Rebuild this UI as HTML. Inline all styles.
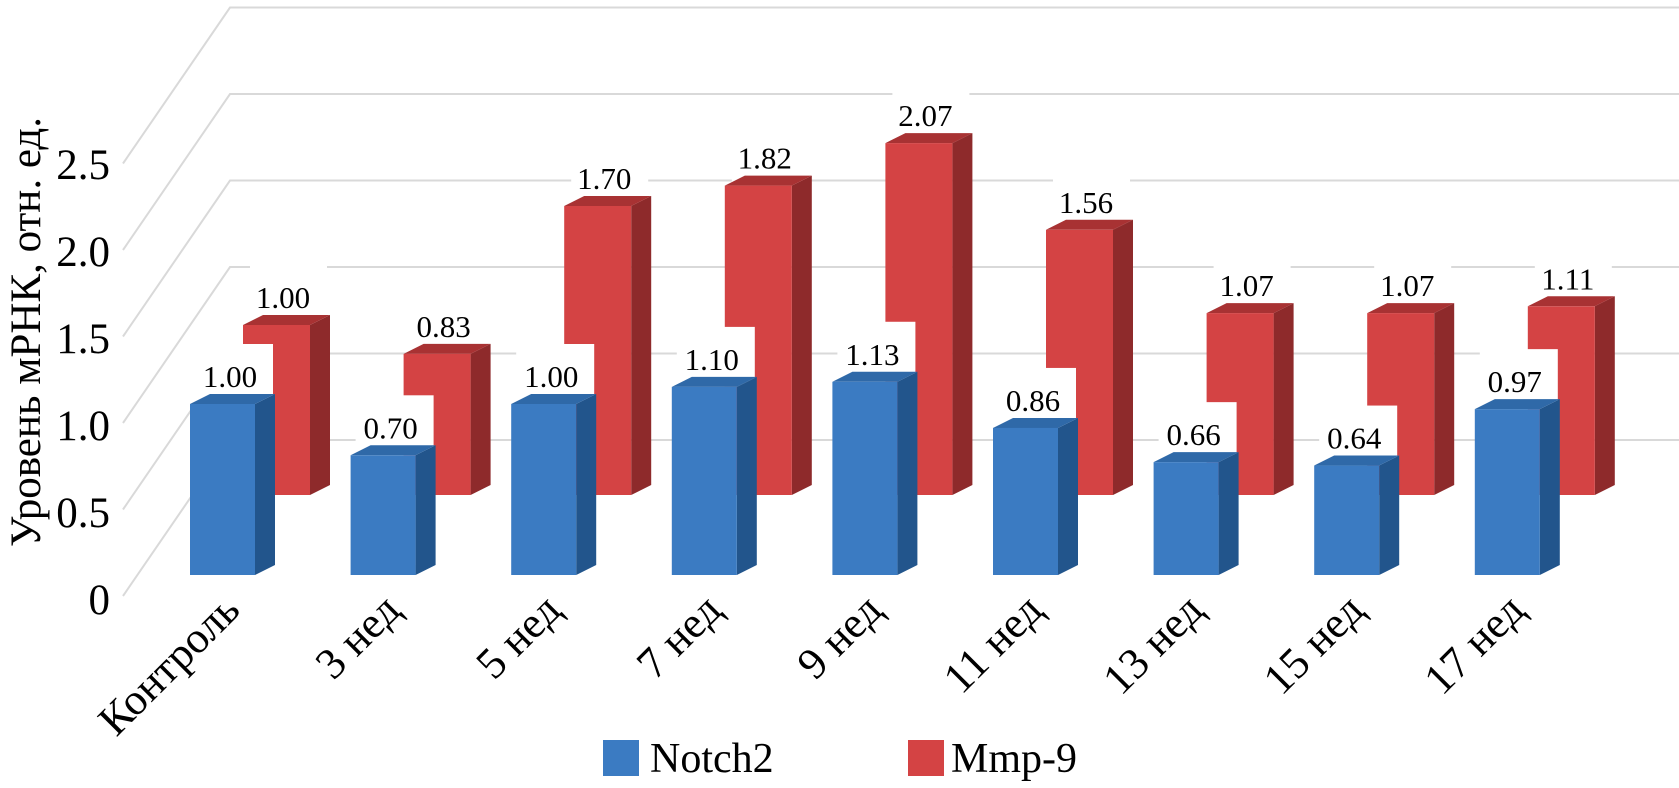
<!DOCTYPE html>
<html><head><meta charset="utf-8"><style>
html,body{margin:0;padding:0;background:#fff;}
svg, svg text{font-family:"Liberation Serif","Times New Roman",serif !important;}
</style></head><body>
<svg id="chart" width="1679" height="783" viewBox="0 0 1679 783" xmlns="http://www.w3.org/2000/svg" font-family="Liberation Serif, serif">
<g id="grid"></g>
<g id="yticks"></g>
<text font-family="Liberation Serif, serif" x="0" y="0" font-size="43" text-anchor="middle" transform="translate(40,332) rotate(-90)">Уровень мРНК, отн. ед.</text>
<g id="bars"></g>
<g id="xlabels"></g>
<g>
<g><rect x="603" y="740" width="36" height="36" fill="#3b7bc2"/><text font-family="Liberation Serif, serif" x="650" y="772" font-size="42">Notch2</text></g>
<g><rect x="908" y="740" width="36" height="36" fill="#d44344"/><text font-family="Liberation Serif, serif" x="951" y="772" font-size="42">Mmp-9</text></g>
</g>
</svg>
<script>
const categories = ["Контроль","3 нед","5 нед","7 нед","9 нед","11 нед","13 нед","15 нед","17 нед"];
const notch2 = [1.00,0.70,1.00,1.10,1.13,0.86,0.66,0.64,0.97];
const mmp9 = [1.00,0.83,1.70,1.82,2.07,1.56,1.07,1.07,1.11];
const yTicks = ["0","0.5","1.0","1.5","2.0","2.5"];

const NS="http://www.w3.org/2000/svg";
const FF="Liberation Serif, serif";
function mk(tag, attrs, parent){const e=document.createElementNS(NS,tag);for(const k in attrs)e.setAttribute(k,attrs[k]);parent.appendChild(e);return e;}
const catX = i => 190 + 160.6*i;
const blueY = v => 575 - 171*v;
const redY = v => 495 - 170*v;
const DX=20, DY=-10;

const grid=document.getElementById('grid');
for(let k=0;k<6;k++){
  const fy=596-86.5*k, by=440-86.5*k;
  const l=mk('polyline',{points:`123,${fy} 230,${by} 1679,${by}`,fill:'none',stroke:'#d9d9d9','stroke-width':2},grid);
  
  
}
const yt=document.getElementById('yticks');
yTicks.forEach((t,k)=>{
  const e=mk('text',{x:110,y:614-87*k,'font-size':43,'text-anchor':'end','font-family':FF},yt);
  e.textContent=t;
  
  
});

const bars=document.getElementById('bars');
function bar3d(x,w,top,base,cols,name){
  const g=mk('g',{},bars);
  
  
  mk('polygon',{points:`${x+w},${top} ${x+w+DX},${top+DY} ${x+w+DX},${base+DY} ${x+w},${base}`,fill:cols[1]},g);
  mk('polygon',{points:`${x},${top} ${x+DX},${top+DY} ${x+w+DX},${top+DY} ${x+w},${top}`,fill:cols[2]},g);
  mk('rect',{x:x,y:top,width:w,height:base-top,fill:cols[0]},g);
}
function label(cx,top,txt,name,bx0,bx1){
  const r=mk('rect',{x:bx0,y:top-70,width:bx1-bx0,height:60,fill:'#fff'},bars);
  
  
  const t=mk('text',{x:cx,y:top-27,'font-size':31,'text-anchor':'middle','font-family':FF},bars);
  t.textContent=txt;
  
  
}
categories.forEach((c,i)=>{
  const rx=catX(i)+53, rt=redY(mmp9[i]);
  label(rx+40,rt+10,mmp9[i].toFixed(2),'value-label-mmp9',rx+7,rx+84);
  bar3d(rx,67,rt,495,['#d44344','#8e2a2b','#a83233'],'bar-mmp9');
});
categories.forEach((c,i)=>{
  const bx=catX(i), bt=blueY(notch2[i]);
  label(bx+40,bt+10,notch2[i].toFixed(2),'value-label-notch2',bx+5,bx+83);
  bar3d(bx,65,bt,575,['#3b7bc2','#22558c','#2f69a8'],'bar-notch2');
});
const xl=document.getElementById('xlabels');
categories.forEach((c,i)=>{
  const x=catX(i)+52, y=612;
  const t=mk('text',{x:0,y:0,'font-size':44,'text-anchor':'end','font-family':FF,transform:`translate(${x},${y}) rotate(-45)`},xl);
  t.textContent=c;
  
  
});
</script>
</body></html>
